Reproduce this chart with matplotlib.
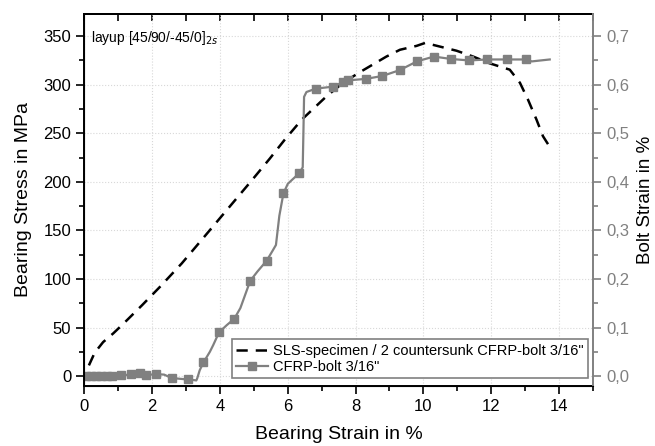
import matplotlib
matplotlib.use("Agg")
import matplotlib.pyplot as plt
from matplotlib.ticker import MultipleLocator, FuncFormatter
from matplotlib.lines import Line2D

plt.rcParams['font.family'] = ['Liberation Sans', 'DejaVu Sans']

# SLS-specimen bearing stress curve (dashed)
sls_strain = [0.13, 0.3, 0.55, 0.85, 1.15, 1.7, 2.23, 2.87, 3.5, 4.2, 4.9, 5.47, 5.9, 6.41,
              7.14, 7.63, 8.13, 8.91, 9.31, 9.8, 10.05, 10.29, 10.98, 11.47, 11.96, 12.55,
              12.85, 13.09, 13.34, 13.53, 13.73]
sls_stress = [11, 24, 35, 44, 54, 73, 92, 116, 142, 171, 200, 224, 243, 264,
              288, 302, 313, 329, 336, 340, 343, 341, 335, 329, 322, 315.5,
              302, 284.5, 264, 247, 236]

# CFRP-bolt strain curve (solid with square markers), right axis
bolt_x = [0.0, 0.05, 0.2, 0.35, 0.5, 0.65, 0.8, 1.0, 1.07, 1.2, 1.38, 1.63, 1.81, 2.12, 2.35,
          2.57, 3.04, 3.2, 3.3, 3.33, 3.4, 3.51, 3.7, 3.8, 3.97, 4.2, 4.42, 4.6, 4.89,
          5.1, 5.38, 5.55, 5.65, 5.7, 5.75, 5.87, 6.0, 6.34, 6.44, 6.46, 6.48, 6.55, 6.83,
          7.33, 7.62, 7.78, 8.3, 8.79, 9.3, 9.81, 10.31, 10.82, 11.35, 11.88, 12.46,
          13.04, 13.2, 13.73]
bolt_strain = [0.0, 0.0, 0.0, 0.0, 0.0, 0.0, 0.0, 0.001, 0.002, 0.002, 0.004, 0.006, 0.002, 0.004, 0.003,
               -0.004, -0.007, -0.008, -0.009, -0.004, 0.012, 0.028, 0.05, 0.064, 0.09, 0.105, 0.118, 0.14, 0.196,
               0.215, 0.238, 0.258, 0.27, 0.3, 0.33, 0.376, 0.396, 0.418, 0.43, 0.5, 0.575, 0.585, 0.592,
               0.596, 0.605, 0.609, 0.612, 0.618, 0.63, 0.648, 0.658, 0.653, 0.65, 0.652, 0.652,
               0.652, 0.648, 0.652]
bolt_mark_x = [0.05, 0.2, 0.35, 0.5, 0.65, 0.8, 1.07, 1.38, 1.63, 1.81, 2.12, 2.57, 3.04, 3.51,
               3.97, 4.42, 4.89, 5.38, 5.87, 6.34, 6.83, 7.33, 7.62, 7.78, 8.3, 8.79, 9.3,
               9.81, 10.31, 10.82, 11.35, 11.88, 12.46, 13.04]

bolt_mark_y = [bolt_strain[bolt_x.index(v)] for v in bolt_mark_x]

fig = plt.figure(figsize=(6.55, 4.46), dpi=100)
ax = fig.add_axes([0.129, 0.135, 0.776, 0.834])
ax2 = ax.twinx()

gray = '#808080'
ax.plot(sls_strain, sls_stress, color='black', lw=1.8, dashes=(4.5, 3.2), zorder=3)
ax2.plot(bolt_x, bolt_strain, color=gray, lw=1.6, zorder=2)
ax2.plot(bolt_mark_x, bolt_mark_y, ls='none', marker='s', ms=6, color=gray, zorder=2)

ax.set_xlim(0, 15)
ax.set_ylim(-10, 373)
ax2.set_ylim(-0.02, 0.746)

ax.xaxis.set_major_locator(MultipleLocator(2))
ax.xaxis.set_minor_locator(MultipleLocator(1))
ax.yaxis.set_major_locator(MultipleLocator(50))
ax.yaxis.set_minor_locator(MultipleLocator(25))
ax2.yaxis.set_major_locator(MultipleLocator(0.1))
ax2.yaxis.set_minor_locator(MultipleLocator(0.05))
ax2.yaxis.set_major_formatter(FuncFormatter(lambda v, p: f"{v:.1f}".replace('.', ',').replace('-0,0', '0,0')))

ax.grid(True, which='major', color='#d8d8d8', lw=0.8, ls=':')

ax.tick_params(axis='both', which='major', direction='out', length=6, width=1.2, labelsize=12)
ax.tick_params(axis='both', which='minor', direction='out', length=3.5, width=1.2)
secx = ax.secondary_xaxis('top')
secx.xaxis.set_major_locator(MultipleLocator(2))
secx.xaxis.set_minor_locator(MultipleLocator(1))
secx.tick_params(which='both', direction='in', length=5, width=1.2, labeltop=False)
secx.spines['top'].set_linewidth(1.4)
ax.tick_params(axis='x', which='both', top=False)

ax2.tick_params(axis='y', which='major', direction='out', length=6, width=1.2, colors=gray, labelsize=12)
ax2.tick_params(axis='y', which='minor', direction='out', length=3.5, width=1.2, colors=gray)
ax2.spines['right'].set_color(gray)
ax2.spines['right'].set_linewidth(1.4)
for s in ['left', 'bottom', 'top']:
    ax.spines[s].set_linewidth(1.4)
ax2.spines['top'].set_visible(False)
ax.spines['right'].set_visible(False)

ax.set_xlabel('Bearing Strain in %', fontsize=14, labelpad=9)
ax.set_ylabel('Bearing Stress in MPa', fontsize=14, labelpad=8)
ax2.set_ylabel('Bolt Strain in %', fontsize=13.5, labelpad=6)

ax.text(0.012, 0.96, r'layup [45/90/-45/0]$_{2s}$', transform=ax.transAxes, fontsize=10,
        va='top', ha='left')

h1 = Line2D([], [], color='black', lw=1.8, dashes=(4.5, 3.2))
h2 = Line2D([], [], color=gray, lw=1.6, marker='s', ms=6)
leg = ax.legend([h1, h2], ['SLS-specimen / 2 countersunk CFRP-bolt 3/16"', 'CFRP-bolt 3/16"'],
                loc='lower right', bbox_to_anchor=(0.99, 0.02), fontsize=10.5, fancybox=False,
                edgecolor=gray, framealpha=1, handlelength=2.2, handletextpad=0.3,
                borderpad=0.3, labelspacing=0.15, borderaxespad=0)
leg.get_frame().set_linewidth(1.2)
leg.set_zorder(5)

fig.savefig('out.png', dpi=100)
